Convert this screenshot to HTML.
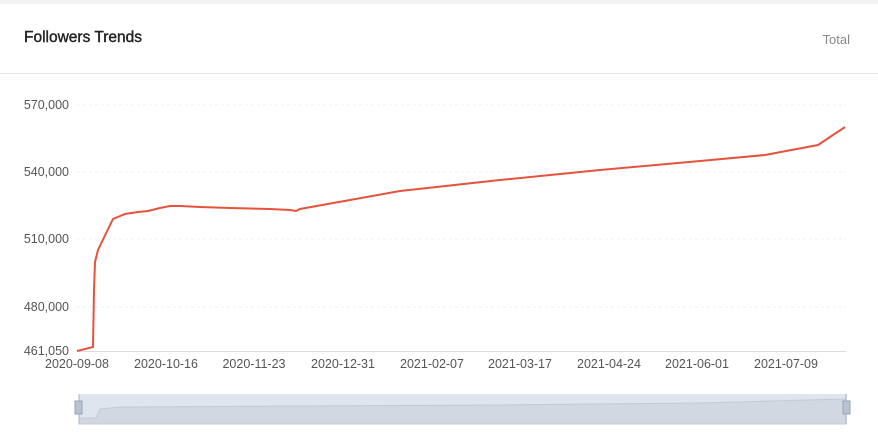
<!DOCTYPE html>
<html><head><style>
body{margin:0;width:878px;height:445px;background:#fff;font-family:"Liberation Sans","DejaVu Sans",sans-serif;overflow:hidden;position:relative}
.top{position:absolute;left:0;top:0;width:878px;height:4px;background:#f2f2f4}
.title{position:absolute;left:24px;top:29px;font-size:15.5px;color:#222;font-weight:normal;-webkit-text-stroke:0.4px #222}
.total{position:absolute;right:28px;top:32px;font-size:13px;color:#888}
.div{position:absolute;left:0;top:73px;width:878px;height:1px;background:#e6e6e6}
</style></head><body>
<div class="top"></div>
<div class="title">Followers Trends</div>
<div class="total">Total</div>
<div class="div"></div>
<svg width="878" height="445" style="position:absolute;left:0;top:0" font-family="Liberation Sans, sans-serif">
<g stroke="#f0f0f0" stroke-dasharray="3,3">
<line x1="77" y1="105" x2="846" y2="105"/><line x1="77" y1="172" x2="846" y2="172"/><line x1="77" y1="239" x2="846" y2="239"/><line x1="77" y1="307" x2="846" y2="307"/>
</g>
<line x1="77" y1="351.5" x2="846" y2="351.5" stroke="#ddd"/>
<g font-size="12.5" fill="#555" text-anchor="end">
<text x="69" y="109">570,000</text><text x="69" y="176">540,000</text><text x="69" y="243">510,000</text><text x="69" y="311">480,000</text><text x="69" y="355">461,050</text>
</g>
<g font-size="12.5" fill="#555" text-anchor="middle">
<text x="77" y="368">2020-09-08</text><text x="166" y="368">2020-10-16</text><text x="254" y="368">2020-11-23</text><text x="343" y="368">2020-12-31</text><text x="432" y="368">2021-02-07</text><text x="520" y="368">2021-03-17</text><text x="609" y="368">2021-04-24</text><text x="697" y="368">2021-06-01</text><text x="786" y="368">2021-07-09</text>
</g>
<polyline fill="none" stroke="#e5533d" stroke-width="2" points="77,351 93,347 94,290 95,262 98,250 113,219 125,214 138,212 148,211 160,208 170,206 180,206 200,207 230,208 270,209 290,210 296,211 300,209 400,191 500,180 600,170 700,161 765,155 818,145 845,127"/>
<rect x="79" y="394" width="768" height="30" fill="#dfe5ee"/>
<path d="M79,424 L79,418 L96,418 L100,409 L120,407 L300,406 L500,405 L700,403 L846,399 L846,424Z" fill="#d1d8e1" stroke="#c2cad6"/>
<line x1="79" y1="394" x2="79" y2="424" stroke="#aab4c4"/><line x1="846" y1="394" x2="846" y2="424" stroke="#aab4c4"/>
<rect x="75" y="401" width="7" height="13" fill="#b8c3d3" stroke="#95a3b8"/>
<rect x="843" y="401" width="7" height="13" fill="#b8c3d3" stroke="#95a3b8"/>
</svg>
</body></html>
